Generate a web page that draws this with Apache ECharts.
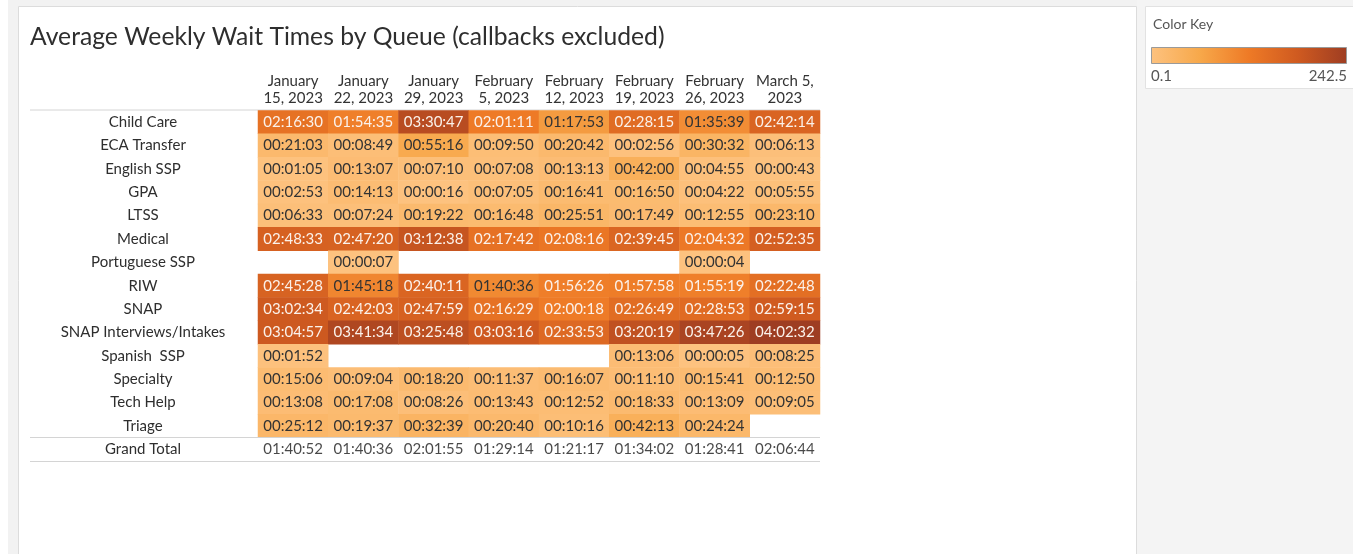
<!DOCTYPE html>
<html>
<head>
<meta charset="utf-8">
<script src="https://cdn.jsdelivr.net/npm/echarts@6/dist/echarts.min.js"></script>
<style>
  html, body { margin: 0; padding: 0; background: #fff; }
  #chart { width: 1353px; height: 554px; }
</style>
</head>
<body>
<div id="chart"></div>
<script>
// weeks (columns) and queues (rows)
const weeks = ['January\n15, 2023', 'January\n22, 2023', 'January\n29, 2023', 'February\n5, 2023',
               'February\n12, 2023', 'February\n19, 2023', 'February\n26, 2023', 'March 5,\n2023'];
const queues = ['Child Care', 'ECA Transfer', 'English SSP', 'GPA', 'LTSS', 'Medical', 'Portuguese SSP',
                'RIW', 'SNAP', 'SNAP Interviews/Intakes', 'Spanish  SSP', 'Specialty', 'Tech Help', 'Triage'];

// average wait per week, hh:mm:ss (null = no calls)
const childCare   = ['02:16:30', '01:54:35', '03:30:47', '02:01:11', '01:17:53', '02:28:15', '01:35:39', '02:42:14'];
const ecaTransfer = ['00:21:03', '00:08:49', '00:55:16', '00:09:50', '00:20:42', '00:02:56', '00:30:32', '00:06:13'];
const englishSsp  = ['00:01:05', '00:13:07', '00:07:10', '00:07:08', '00:13:13', '00:42:00', '00:04:55', '00:00:43'];
const gpa         = ['00:02:53', '00:14:13', '00:00:16', '00:07:05', '00:16:41', '00:16:50', '00:04:22', '00:05:55'];
const ltss        = ['00:06:33', '00:07:24', '00:19:22', '00:16:48', '00:25:51', '00:17:49', '00:12:55', '00:23:10'];
const medical     = ['02:48:33', '02:47:20', '03:12:38', '02:17:42', '02:08:16', '02:39:45', '02:04:32', '02:52:35'];
const portuguese  = [null, '00:00:07', null, null, null, null, '00:00:04', null];
const riw         = ['02:45:28', '01:45:18', '02:40:11', '01:40:36', '01:56:26', '01:57:58', '01:55:19', '02:22:48'];
const snap        = ['03:02:34', '02:42:03', '02:47:59', '02:16:29', '02:00:18', '02:26:49', '02:28:53', '02:59:15'];
const snapIntake  = ['03:04:57', '03:41:34', '03:25:48', '03:03:16', '02:33:53', '03:20:19', '03:47:26', '04:02:32'];
const spanishSsp  = ['00:01:52', null, null, null, null, '00:13:06', '00:00:05', '00:08:25'];
const specialty   = ['00:15:06', '00:09:04', '00:18:20', '00:11:37', '00:16:07', '00:11:10', '00:15:41', '00:12:50'];
const techHelp    = ['00:13:08', '00:17:08', '00:08:26', '00:13:43', '00:12:52', '00:18:33', '00:13:09', '00:09:05'];
const triage      = ['00:25:12', '00:19:37', '00:32:39', '00:20:40', '00:10:16', '00:42:13', '00:24:24', null];
const grandTotal  = ['01:40:52', '01:40:36', '02:01:55', '01:29:14', '01:21:17', '01:34:02', '01:28:41', '02:06:44'];

// colour key range (minutes)
const keyMin = 0.1;
const keyMax = 242.5;
const palette = ['#fdc27f', '#f7a84a', '#ee7a26', '#cf5a20', '#9e3d22'];

const rows = [childCare, ecaTransfer, englishSsp, gpa, ltss, medical, portuguese,
              riw, snap, snapIntake, spanishSsp, specialty, techHelp, triage];

function toMinutes(t) {
    const p = t.split(':').map(Number);
    return p[0] * 60 + p[1] + p[2] / 60;
}

const FONT = 'Lato';
const cells = [];
rows.forEach((row, y) => {
    row.forEach((t, x) => {
        if (t === null) return;
        const m = toMinutes(t);
        cells.push({
            value: [x, y, m, t],
            label: { color: m > 110 ? '#fbf1ea' : '#333333' }
        });
    });
});
const totals = grandTotal.map((t, x) => [x, queues.length, t]);

const myChart = echarts.init(document.getElementById('chart'));

const option = {
    backgroundColor: '#ffffff',
    animation: false,
    textStyle: { fontFamily: FONT },
    title: {
        text: 'Average Weekly Wait Times by Queue (callbacks excluded)',
        left: 30,
        top: 25,
        padding: 0,
        textStyle: { fontFamily: FONT, fontSize: 24.7, fontWeight: 'normal', color: '#2e2e2e' }
    },
    graphic: [
        // page frame
        { type: 'rect', z: -10, silent: true, shape: { x: 8, y: 0, width: 1345, height: 554 }, style: { fill: '#f2f2f2' } },
        { type: 'rect', z: -9, silent: true, shape: { x: 18.5, y: 6.5, width: 1118, height: 560 }, style: { fill: '#ffffff', stroke: '#dcdcdc', lineWidth: 1 } },
        { type: 'rect', z: -9, silent: true, shape: { x: 1137, y: 0, width: 216, height: 554 }, style: { fill: '#f4f4f4' } },
        // table rules
        { type: 'line', silent: true, shape: { x1: 30, y1: 110, x2: 820, y2: 110 }, style: { stroke: '#d4d4d4', lineWidth: 1 } },
        { type: 'line', silent: true, z: 10, shape: { x1: 30, y1: 437.5, x2: 820, y2: 437.5 }, style: { stroke: '#d4d4d4', lineWidth: 1 } },
        { type: 'line', silent: true, shape: { x1: 30, y1: 461.5, x2: 820, y2: 461.5 }, style: { stroke: '#d4d4d4', lineWidth: 1 } },
        // colour key
        { type: 'rect', silent: true, shape: { x: 1145.5, y: 6.5, width: 220, height: 82 }, style: { fill: '#ffffff', stroke: '#e2e2e2', lineWidth: 1 } },
        { type: 'text', silent: true, left: 1153, top: 17, style: { text: 'Color Key', font: '14px ' + FONT, fill: '#555555' } },
        {
            type: 'rect', silent: true, shape: { x: 1151.5, y: 47.5, width: 195, height: 16 },
            style: {
                stroke: '#9a9a9a', lineWidth: 1,
                fill: new echarts.graphic.LinearGradient(0, 0, 1, 0,
                    palette.map((c, i) => ({ offset: i / (palette.length - 1), color: c })))
            }
        },
        { type: 'text', silent: true, left: 1151, top: 69, style: { text: String(keyMin), font: '15px ' + FONT, fill: '#555555' } },
        { type: 'text', silent: true, right: 6, top: 69, style: { text: String(keyMax), font: '15px ' + FONT, fill: '#555555', align: 'right' } }
    ],
    grid: { left: 258, top: 110.5, width: 562, height: 350.5 },
    xAxis: {
        type: 'category',
        position: 'top',
        data: weeks,
        axisLine: { show: false },
        axisTick: { show: false },
        splitLine: { show: false },
        axisLabel: { interval: 0, margin: 4, fontSize: 15, lineHeight: 17, color: '#333333', fontFamily: FONT }
    },
    yAxis: {
        type: 'category',
        inverse: true,
        data: queues.concat(['Grand Total']),
        axisLine: { show: false },
        axisTick: { show: false },
        splitLine: { show: false },
        axisLabel: { interval: 0, align: 'center', margin: 115, fontSize: 15, color: '#2e2e2e', fontFamily: FONT }
    },
    visualMap: {
        show: false,
        min: keyMin,
        max: keyMax,
        dimension: 2,
        seriesIndex: 0,
        inRange: { color: palette }
    },
    series: [
        {
            type: 'heatmap',
            data: cells,
            itemStyle: { borderWidth: 0 },
            emphasis: { disabled: true },
            label: {
                show: true,
                fontSize: 15,
                fontFamily: FONT,
                formatter: p => p.value[3]
            }
        },
        {
            type: 'scatter',
            data: totals,
            symbolSize: 0,
            label: {
                show: true,
                position: 'inside',
                fontSize: 15,
                fontFamily: FONT,
                color: '#1a1a1a',
                formatter: p => p.value[2]
            }
        }
    ]
};

myChart.setOption(option);

window.addEventListener('resize', () => {
    myChart.resize();
});
</script>
</body>
</html>
